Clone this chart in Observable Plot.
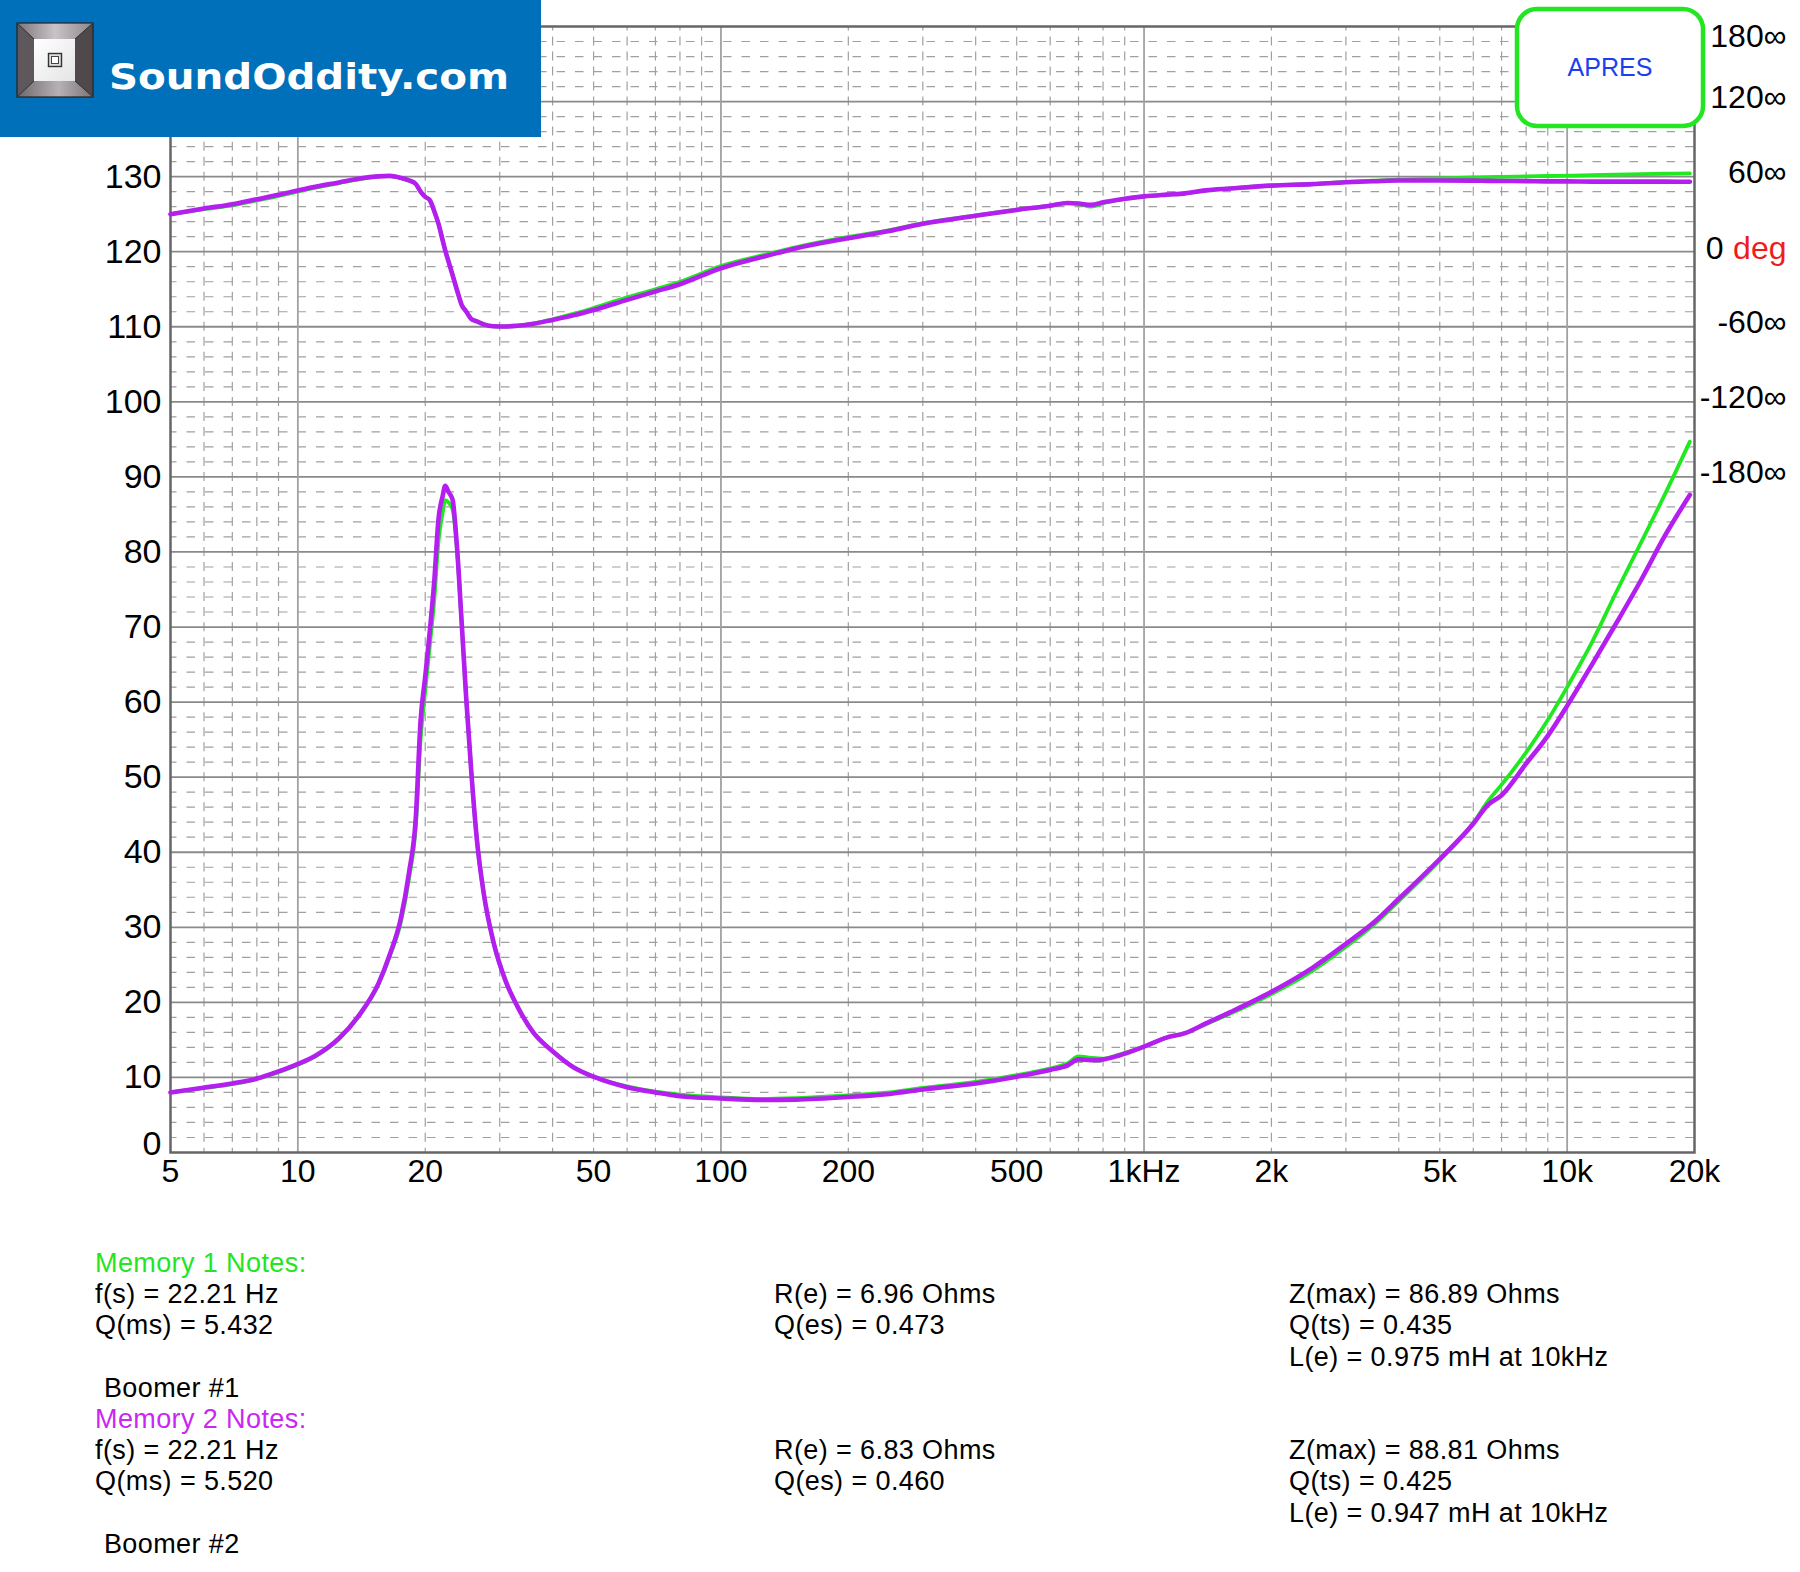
<!DOCTYPE html>
<html>
<head>
<meta charset="utf-8">
<script src="https://cdn.jsdelivr.net/npm/d3@7"></script>
<script src="https://cdn.jsdelivr.net/npm/@observablehq/plot@0.6"></script>
<style>
  html, body { margin: 0; padding: 0; background: #fff; }
  #wrap { position: relative; width: 1800px; height: 1572px; overflow: hidden; background: #fff; }
  #chart { position: absolute; left: 0; top: 0; }
  #overlay { position: absolute; left: 0; top: 0; pointer-events: none; }
</style>
</head>
<body>
<div id="wrap">
  <div id="chart"></div>
  <svg id="overlay" width="1800" height="1572" xmlns="http://www.w3.org/2000/svg"></svg>
</div>
<script>
// ---------- data ----------
const freq = [5,6,7,8,9,10,11,12.5,14,15.5,
  16.5,17.5,18.3,19,19.5,20,20.5,21,21.5,22,
  22.3,22.7,23.2,23.8,24.4,25,25.7,26.5,27.5,29,
  31,33,36,40,45,50,60,70,80,100,
  125,150,200,250,300,400,500,600,660,700,
  750,800,870,1000,1130,1250,1400,1600,2000,2500,
  3000,3500,4000,5000,6000,6500,7000,8000,9000,10000,
  11500,13000,15000,17000,19500];

// impedance (ohms)
const zMem1 = [8.0,8.6,9.1,9.8,10.7,11.7,12.8,15.1,18.3,22.4,
  26.2,30.6,36.4,43.5,55.0,61.5,67.5,73.5,81.5,85.3,
  86.9,86.6,85.7,80.0,70.2,60.4,50.7,41.6,34.5,28.0,
  22.8,19.5,16.0,13.5,11.3,10.1,8.8,8.1,7.7,7.35,
  7.15,7.25,7.6,8.0,8.6,9.4,10.3,11.2,11.9,12.8,
  12.6,12.5,13.0,14.1,15.3,15.9,17.1,18.5,21.1,24.2,
  27.4,30.4,33.5,38.9,43.9,46.8,49.0,53.3,57.6,62.0,
  68.2,74.4,81.4,87.6,94.7];
const zMem2 = [8.0,8.65,9.2,9.85,10.8,11.8,12.9,15.2,18.4,22.5,
  26.4,31.1,37.2,44.6,57.5,63.4,69.4,76.0,84.4,87.5,
  88.8,88.0,87.0,80.3,70.4,60.5,50.7,41.6,34.5,28.0,
  22.8,19.5,16.0,13.5,11.3,10.1,8.7,8.0,7.5,7.2,
  7.0,7.05,7.4,7.8,8.4,9.2,10.1,11.0,11.6,12.4,
  12.3,12.4,12.9,14.1,15.3,15.9,17.2,18.7,21.4,24.6,
  27.8,30.7,33.8,39.1,43.8,46.3,47.6,51.8,55.5,59.5,
  65.2,70.3,76.4,82.1,87.6];

// phase (degrees)
const pMem1 = [30,34,37,41,44.5,48,51.2,54.8,58,60.2,
  60.6,59,57,54.1,48,43.8,41.3,32.5,22.2,8.8,
  1,-7.7,-18.4,-31.2,-42.7,-47.8,-53.8,-55.7,-58.1,-59.6,
  -59.8,-59.2,-57.4,-54,-49.5,-45,-36.5,-30,-24,-11.5,
  -3,3.5,11.8,17.3,22.8,29,33.6,36.8,38.9,38.2,
  36,38.8,41.4,44.2,45.6,46.6,49,50.6,52.9,54.1,
  55.7,56.8,57.6,58.6,59.4,59.6,59.8,60.2,60.5,60.8,
  61.2,61.6,62,62.3,62.6];
const pMem2 = [30,34.5,38,42,45.5,49,52,55.4,58.5,60.2,
  60.6,59,57,54.1,48,43.8,41.3,32.5,22.2,8.8,
  1,-7.7,-18.4,-31.2,-42.7,-47.8,-53.8,-55.7,-58.1,-59.6,
  -59.8,-59.2,-57.6,-54.5,-50.7,-46.6,-38.5,-31.8,-26,-13.2,
  -4.3,2.6,10.8,16.5,22.3,28.7,33.4,36.8,38.9,38.5,
  37.4,39.5,41.6,44.2,45.6,46.6,49,50.5,52.8,54,
  55.5,56.3,56.9,56.9,56.8,56.6,56.5,56.4,56.2,56.2,
  56,56,56,56,55.9];

// axes / ticks
const xTicks = [5,10,20,50,100,200,500,1000,2000,5000,10000,20000];
const xTickLabels = ["5","10","20","50","100","200","500","1kHz","2k","5k","10k","20k"];
const yTicks = [10,20,30,40,50,60,70,80,90,100,110,120,130];
const phaseTicks = [180,120,60,-60,-120,-180];
const phaseTickLabels = ["180∞","120∞","60∞","-60∞","-120∞","-180∞"];
const majorX = [10,100,1000,10000];
const minorMult = [2,3,4,5,6,7,8,9];
const majorY = [10,20,30,40,50,60,70,80,90,100,110,120,130,140];

// notes text
const notes1 = {
  title: "Memory 1 Notes:",
  col1: ["f(s) = 22.21 Hz", "Q(ms) = 5.432"],
  col2: ["R(e) = 6.96 Ohms", "Q(es) = 0.473"],
  col3: ["Z(max) = 86.89 Ohms", "Q(ts) = 0.435", "L(e) = 0.975 mH at 10kHz"],
  name: " Boomer #1"
};
const notes2 = {
  title: "Memory 2 Notes:",
  col1: ["f(s) = 22.21 Hz", "Q(ms) = 5.520"],
  col2: ["R(e) = 6.83 Ohms", "Q(es) = 0.460"],
  col3: ["Z(max) = 88.81 Ohms", "Q(ts) = 0.425", "L(e) = 0.947 mH at 10kHz"],
  name: " Boomer #2"
};

// ---------- derived tables ----------
const GREEN = "#22e822";
const MAGENTA = "#b41ef0";
const phaseToY = p => 120 + p / 6;   // right axis: 60° per 10 ohm division, 0° at 120

const minorX = [];
for (const dec of [1, 10, 100, 1000]) {
  for (const m of minorMult) {
    const f = m * dec;
    if (f > 5 && f < 20000 && !majorX.includes(f)) minorX.push(f);
  }
}
const minorY = d3.range(2, 150, 2).filter(v => v % 10 !== 0);

const rows = (zArr, pArr) => freq.map((f, i) => ({f, z: zArr[i], ph: phaseToY(pArr[i])}));
const s1 = rows(zMem1, pMem1);
const s2 = rows(zMem2, pMem2);
const xLab = xTicks.map((v, i) => ({v, label: xTickLabels[i]}));
const pLab = phaseTicks.map((p, i) => ({p, label: phaseTickLabels[i]}));

const FONT = "'Liberation Sans', Arial, Helvetica, sans-serif";

const chart = Plot.plot({
  width: 1800,
  height: 1200,
  marginLeft: 170,
  marginRight: 106,
  marginTop: 26,
  marginBottom: 48,
  x: {type: "log", domain: [5, 20000], axis: null},
  y: {domain: [0, 150], axis: null},
  style: {fontFamily: FONT, background: "#fff", color: "#000", overflow: "visible"},
  marks: [
    Plot.ruleY(minorY, {y: d => d, stroke: "#a0a0a0", strokeWidth: 1.2, strokeDasharray: "8.5,10", strokeDashoffset: 2}),
    Plot.ruleX(minorX, {x: d => d, stroke: "#a0a0a0", strokeWidth: 1.2, strokeDasharray: "9,6.016", strokeDashoffset: 4.5}),
    Plot.ruleY(majorY, {y: d => d, stroke: "#8a8a8a", strokeWidth: 1.8}),
    Plot.ruleX(majorX, {x: d => d, stroke: "#a2a2a2", strokeWidth: 1.8}),
    Plot.frame({stroke: "#666", strokeWidth: 2.5}),
    // impedance & phase curves
    Plot.line(s1, {x: "f", y: "ph", stroke: GREEN, strokeWidth: 3.8, curve: "monotone-x"}),
    Plot.line(s1, {x: "f", y: "z", stroke: GREEN, strokeWidth: 3.8, curve: "monotone-x"}),
    Plot.line(s2, {x: "f", y: "ph", stroke: MAGENTA, strokeWidth: 4.6, curve: "monotone-x"}),
    Plot.line(s2, {x: "f", y: "z", stroke: MAGENTA, strokeWidth: 4.6, curve: "monotone-x"}),
    // left axis labels
    Plot.text(yTicks, {y: d => d, text: d => String(d), frameAnchor: "left", dx: -9, textAnchor: "end", fontSize: 34, fill: "#000"}),
    Plot.text([0], {y: d => d, text: d => String(d), frameAnchor: "left", dx: -9, dy: -8, textAnchor: "end", fontSize: 34, fill: "#000"}),
    // bottom axis labels
    Plot.text(xLab, {x: "v", text: "label", frameAnchor: "bottom", dy: 29, fontSize: 32, fill: "#000"}),
    // right (phase) axis labels
    Plot.text(pLab.filter(d => d.p !== 180), {y: d => phaseToY(d.p), text: "label", frameAnchor: "right", dx: 92, dy: -4, textAnchor: "end", fontSize: 32, fill: "#000"}),
    Plot.text(pLab.filter(d => d.p === 180), {y: d => phaseToY(d.p), text: "label", frameAnchor: "right", dx: 92, dy: 10, textAnchor: "end", fontSize: 32, fill: "#000"}),
    Plot.text([0], {y: d => phaseToY(d), text: () => "0", frameAnchor: "right", dx: 29, dy: -3, textAnchor: "end", fontSize: 32, fill: "#000"}),
    Plot.text([0], {y: d => phaseToY(d), text: () => "deg", frameAnchor: "right", dx: 92, dy: -3, textAnchor: "end", fontSize: 32, fill: "#ee1c1c"})
  ]
});
document.getElementById("chart").appendChild(chart);

// ---------- overlay: logo, label box, notes ----------
const ns = "http://www.w3.org/2000/svg";
const ov = document.getElementById("overlay");
function el(tag, attrs, text) {
  const e = document.createElementNS(ns, tag);
  for (const k in attrs) e.setAttribute(k, attrs[k]);
  if (text !== undefined) e.textContent = text;
  ov.appendChild(e);
  return e;
}
ov.innerHTML = `
<defs>
  <linearGradient id="gTop" x1="0" x2="1" y1="0" y2="0">
    <stop offset="0" stop-color="#7c7478"/><stop offset="0.5" stop-color="#c9c3c7"/><stop offset="1" stop-color="#8d868a"/>
  </linearGradient>
  <linearGradient id="gBot" x1="0" x2="1" y1="0" y2="0">
    <stop offset="0" stop-color="#6e676b"/><stop offset="0.55" stop-color="#b7b1b5"/><stop offset="1" stop-color="#7a7377"/>
  </linearGradient>
  <linearGradient id="gIn" x1="0" x2="1" y1="0" y2="1">
    <stop offset="0" stop-color="#ffffff"/><stop offset="1" stop-color="#e4e4e4"/>
  </linearGradient>
</defs>`;
el("rect", {x: 0, y: 0, width: 541, height: 137, fill: "#0070bb"});
el("polygon", {points: "17,23 93,23 75,39 34,39", fill: "url(#gTop)"});
el("polygon", {points: "17,97 93,97 75,81 34,81", fill: "url(#gBot)"});
el("polygon", {points: "17,23 34,39 34,81 17,97", fill: "#5e575b"});
el("polygon", {points: "93,23 75,39 75,81 93,97", fill: "#4f494c"});
el("rect", {x: 34, y: 39, width: 41, height: 42, fill: "url(#gIn)"});
el("rect", {x: 17, y: 23, width: 76, height: 74, fill: "none", stroke: "#222", "stroke-width": 1.2});
el("line", {x1: 17, y1: 23, x2: 34, y2: 39, stroke: "#333", "stroke-width": 1});
el("line", {x1: 93, y1: 23, x2: 75, y2: 39, stroke: "#333", "stroke-width": 1});
el("line", {x1: 17, y1: 97, x2: 34, y2: 81, stroke: "#333", "stroke-width": 1});
el("line", {x1: 93, y1: 97, x2: 75, y2: 81, stroke: "#333", "stroke-width": 1});
el("rect", {x: 48.5, y: 53.5, width: 13, height: 13, fill: "#ddd", stroke: "#333", "stroke-width": 1.4});
el("rect", {x: 51.5, y: 56.5, width: 7, height: 7, fill: "#fff", stroke: "#444", "stroke-width": 1});
el("text", {x: 109, y: 89, fill: "#fff", "font-family": "'DejaVu Sans', Verdana, sans-serif", "font-weight": "bold",
  "font-size": 35, textLength: 400, lengthAdjust: "spacingAndGlyphs"}, "SoundOddity.com");

// APRES box
el("rect", {x: 1517, y: 9, width: 186, height: 117, rx: 20, ry: 20, fill: "#fff", stroke: "#22e622", "stroke-width": 4.5});
el("text", {x: 1610, y: 76, fill: "#1a3ef0", "font-family": FONT, "font-size": 25, "text-anchor": "middle"}, "APRES");

// notes
const LINE = 31.2, BASE = 1272;
function block(n, startRow, titleColor) {
  const common = {"font-family": FONT, "font-size": 27, "letter-spacing": "0.4px"};
  el("text", {...common, x: 95, y: BASE + startRow * LINE, fill: titleColor}, n.title);
  n.col1.forEach((t, i) => el("text", {...common, x: 95, y: BASE + (startRow + 1 + i) * LINE, fill: "#000"}, t));
  n.col2.forEach((t, i) => el("text", {...common, x: 774, y: BASE + (startRow + 1 + i) * LINE, fill: "#000"}, t));
  n.col3.forEach((t, i) => el("text", {...common, x: 1289, y: BASE + (startRow + 1 + i) * LINE, fill: "#000"}, t));
  el("text", {...common, x: 96, y: BASE + (startRow + 4) * LINE, fill: "#000", style: "white-space: pre"}, n.name);
}
block(notes1, 0, "#22e622");
block(notes2, 5, "#c828f0");
</script>
</body>
</html>
